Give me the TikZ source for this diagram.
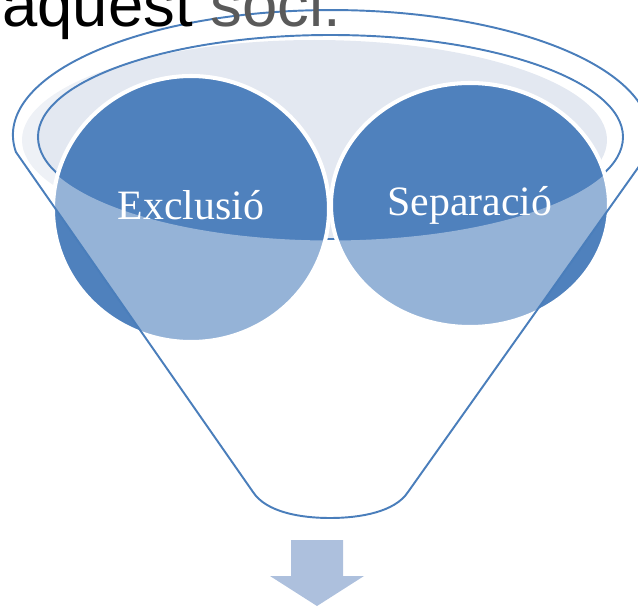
\documentclass[tikz,border=0pt]{standalone}
\usepackage{fontspec}
\setmainfont{Liberation Serif}
\newfontfamily\headfont{Liberation Sans}

\definecolor{balldark}{HTML}{4F81BD}
\definecolor{funnelline}{HTML}{4A7EBB}
\definecolor{innerfill}{HTML}{E3E8F1}
\definecolor{arrowfill}{HTML}{ADC0DD}
\definecolor{fadetext}{HTML}{5A5A5A}

\newcommand{\funnelrim}{(15.9,-152) arc[start angle=187.8, end angle=-11.5, x radius=318.5, y radius=125]
  -- (408,-492) .. controls (395,-512) and (360,-518) .. (330,-518)
  .. controls (300,-518) and (266,-512) .. (253,-492) -- cycle}

\begin{document}
\begin{tikzpicture}[x=0.02cm,y=0.02cm,
                    rim/.style={draw=funnelline,line width=1.1pt},
                    ball/.style={fill=balldark,draw=white,line width=2.3pt},
                    balltext/.style={text=white,anchor=base,inner sep=0pt,
                                     font=\fontsize{23.8}{28}\selectfont}]

    \useasboundingbox (0,0) rectangle (638,-608);

    \fill[innerfill] (314.5,-140) ellipse [x radius=292.5, y radius=100];
    \draw[rim] (330.5,-137) ellipse [x radius=292.5, y radius=102];

    \path[ball] (191,-209) ellipse [x radius=138, y radius=133];
    \path[ball] (470,-205) ellipse [x radius=139, y radius=122];

    \node[balltext] (excl) at (191,-219) {Exclusió};
    \node[balltext] (sep) at (470,-215) {Separació};

    \fill[white,fill opacity=0.4,even odd rule] \funnelrim (330.5,-137) ellipse [x radius=294, y radius=103.5];
    \draw[rim] \funnelrim;

    \fill[arrowfill] (291,-540) -- (343,-540) -- (343,-576) -- (364,-576) -- (317,-606)
        -- (270,-576) -- (291,-576) -- cycle;

    \node[anchor=base west,inner sep=0pt,font=\headfont\fontsize{36.1}{40}\selectfont] (head) at (2,-27)
        {aquest \textcolor{fadetext}{soci.}};

\end{tikzpicture}
\end{document}
